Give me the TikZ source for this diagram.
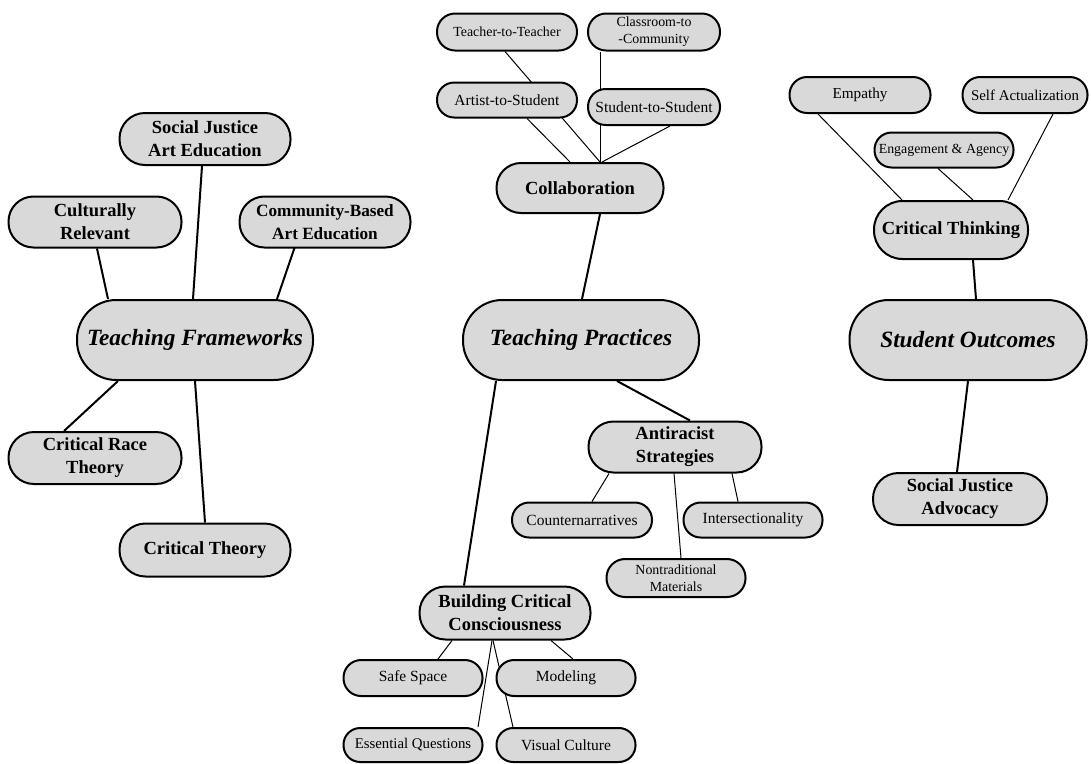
\documentclass[tikz,border=0pt]{standalone}
\usepackage{fontspec}
\setmainfont{Liberation Serif}
\usetikzlibrary{backgrounds}
\definecolor{pillfill}{RGB}{217,217,217}
\tikzset{
  pill/.style n args={2}{rectangle, draw=black, fill=pillfill, line width=2pt,
    minimum width=#1pt, minimum height=#2pt, inner sep=0pt, align=center,
    rounded corners={#2*0.49pt}},
  bigtxt/.style={font=\fontsize{23.3}{28}\selectfont\bfseries\itshape},
  midtxt/.style={font=\fontsize{18.5}{23}\selectfont\bfseries},
  midsm/.style={font=\fontsize{17.2}{23}\selectfont\bfseries},
  smalltxt/.style={font=\fontsize{15.5}{17}\selectfont},
  smallsm/.style={font=\fontsize{13.9}{17}\selectfont},
  thickcon/.style={line width=2pt, black},
  thincon/.style={line width=1pt, black},
}
\begin{document}
\begin{tikzpicture}[x=1pt,y=-1pt]
\useasboundingbox (0,0) rectangle (1091,763);
% Teaching Frameworks
\node[pill={236}{80}, bigtxt] (tf) at (195,340) {Teaching Frameworks};
\node[pill={171}{52}, midtxt] (sjae) at (205,139) {Social Justice\\Art Education};
\node[pill={173}{51}, midtxt] (cr) at (95,222) {Culturally\\Relevant};
\node[pill={171}{51}, midsm] (cbae) at (325,222) {Community-Based\\Art Education};
\node[pill={173}{52}, midtxt] (crt) at (95,458) {Critical Race\\Theory};
\node[pill={171}{53}, midtxt] (ct) at (205,550) {Critical Theory};
% Teaching Practices
\node[pill={236}{80}, bigtxt] (tp) at (581,340) {Teaching Practices};
\node[pill={167}{50}, midtxt] (col) at (580,188) {Collaboration};
\node[pill={140}{37}, smallsm] (tt) at (507,32) {Teacher-to-Teacher};
\node[pill={140}{35}, smalltxt] (as) at (507,100) {Artist-to-Student};
\node[pill={132}{37}, smallsm] (cc) at (654,32) {Classroom-to\\-Community};
\node[pill={132}{36}, smalltxt] (ss) at (654,107) {Student-to-Student};
\node[pill={173}{51}, midtxt] (ar) at (675,447) {Antiracist\\Strategies};
\node[pill={140}{35}, smalltxt] (cn) at (582,520) {Counternarratives};
\node[pill={139}{35}, smalltxt] (is) at (753,520) {Intersectionality};
\node[pill={139}{38}, smallsm] (nm) at (676,578) {Nontraditional\\Materials};
\node[pill={171}{53}, midtxt] (bcc) at (505,613) {Building Critical\\Consciousness};
\node[pill={139}{36}, smalltxt] (sp) at (413,678) {Safe Space};
\node[pill={139}{36}, smalltxt] (md) at (566,678) {Modeling};
\node[pill={139}{34}, font=\fontsize{14.8}{17}\selectfont] (eq) at (413,745) {Essential Questions};
\node[pill={139}{34}, smalltxt] (vc) at (566,745) {Visual Culture};
% Student Outcomes
\node[pill={237}{80}, bigtxt] (so) at (968,340) {Student Outcomes};
\node[pill={154}{58}, midtxt] (cth) at (951,230) {Critical Thinking};
\node[pill={141}{36}, font=\fontsize{15.2}{17}\selectfont] (em) at (860,95) {Empathy};
\node[pill={125}{36}, font=\fontsize{14.9}{17}\selectfont] (sa) at (1025,95) {Self Actualization};
\node[pill={139}{35}, smallsm] (ea) at (944,150) {Engagement \& Agency};
\node[pill={174}{52}, midtxt] (sja) at (960,499) {Social Justice\\Advocacy};
\begin{scope}[on background layer]
% frameworks
\draw[thickcon] ([xshift=2pt]cr.south) -- ([xshift=-87pt]tf.north);
\draw[thickcon] ([xshift=-3pt]sjae.south) -- ([xshift=-2pt]tf.north);
\draw[thickcon] ([xshift=-29pt,yshift=5pt]cbae.south) -- ([xshift=82pt]tf.north);
\draw[thickcon] ([xshift=-77pt]tf.south) -- ([xshift=-31pt]crt.north);
\draw[thickcon] (tf.south) -- (ct.north);
% practices
\draw[thickcon] ([xshift=20pt]col.south) -- ([xshift=1pt]tp.north);
\draw[thincon] ([xshift=-2pt]tt.south) -- ([xshift=20pt]col.north);
\draw[thincon] ([xshift=20pt]as.south) -- ([xshift=-10pt]col.north);
\draw[thincon] ([xshift=-54pt]cc.south) -- ([xshift=20pt]col.north);
\draw[thincon] ([xshift=16pt]ss.south) -- ([xshift=22pt]col.north);
\draw[thickcon] ([xshift=-85pt]tp.south) -- ([xshift=-41pt]bcc.north);
\draw[thickcon] ([xshift=36pt]tp.south) -- ([xshift=15pt]ar.north);
\draw[thincon] ([xshift=-66pt]ar.south) -- ([xshift=10pt]cn.north);
\draw[thincon] ([xshift=-1pt]ar.south) -- ([xshift=5pt]nm.north);
\draw[thincon] ([xshift=57pt]ar.south) -- ([xshift=-15pt]is.north);
\draw[thincon] ([xshift=-53pt]bcc.south) -- ([xshift=25pt]sp.north);
\draw[thincon] ([xshift=46pt]bcc.south) -- ([xshift=7pt]md.north);
\draw[thincon] ([xshift=-13pt]bcc.south) -- ([xshift=65pt]eq.north);
\draw[thincon] ([xshift=-12pt]bcc.south) -- ([xshift=-53pt]vc.north);
% outcomes
\draw[thincon] ([xshift=-42pt]em.south) -- ([xshift=-49pt]cth.north);
\draw[thincon] ([xshift=-6pt]ea.south) -- ([xshift=22pt]cth.north);
\draw[thincon] ([xshift=28pt]sa.south) -- ([xshift=57pt]cth.north);
\draw[thickcon] ([xshift=22pt]cth.south) -- ([xshift=8pt]so.north);
\draw[thickcon] (so.south) -- ([xshift=-3pt]sja.north);
\end{scope}
\end{tikzpicture}
\end{document}
